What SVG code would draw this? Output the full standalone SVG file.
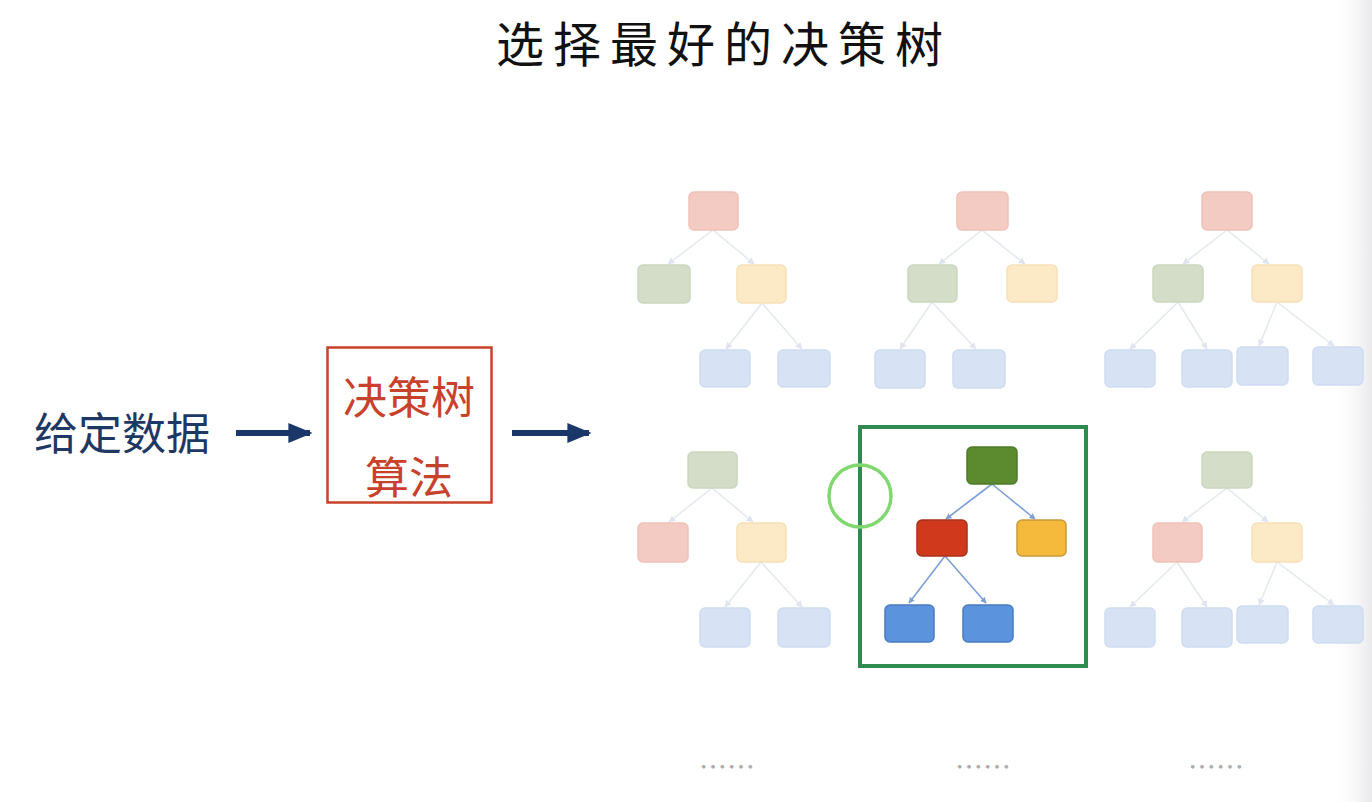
<svg xmlns="http://www.w3.org/2000/svg" width="1372" height="802" viewBox="0 0 1372 802">
<defs>
<linearGradient id="edge" x1="0" y1="0" x2="1" y2="0">
<stop offset="0" stop-color="#ffffff" stop-opacity="0"/>
<stop offset="1" stop-color="#e9e9ec"/>
</linearGradient>
<marker id="ah" viewBox="0 0 10 10" refX="9" refY="5" markerWidth="6" markerHeight="6" orient="auto" markerUnits="userSpaceOnUse">
<path d="M0,0 L10,5 L0,10 z" fill="#7b9fd6"/>
</marker>
<marker id="ahf" viewBox="0 0 10 10" refX="9" refY="5" markerWidth="7" markerHeight="7" orient="auto" markerUnits="userSpaceOnUse">
<path d="M0,0 L10,5 L0,10 z" fill="#dfe4ee"/>
</marker>
<marker id="big" viewBox="0 0 10 10" refX="9" refY="5" markerWidth="24" markerHeight="24" orient="auto" markerUnits="userSpaceOnUse">
<path d="M0,0.8 L10,5 L0,9.2 z" fill="#1b3769"/>
</marker>
</defs>
<style>
.t{font-family:"Noto Sans CJK SC","Noto Sans",sans-serif;}
.n{stroke-width:1.5;}
.fr{fill:#f4cbc2;stroke:#efc1b7;}
.fg{fill:#d3ddc8;stroke:#cbd6bf;}
.fy{fill:#fce9c5;stroke:#f6e0b8;}
.fb{fill:#d7e3f4;stroke:#cfdcf0;}
.fe{stroke:#e4e8ef;stroke-width:1.5;fill:none;marker-end:url(#ahf);}
.se{stroke:#7b9fd6;stroke-width:1.6;fill:none;marker-end:url(#ah);}
.dots{font-family:"Noto Sans CJK SC",sans-serif;font-size:28px;fill:#adadb0;text-anchor:middle;}
</style>
<rect width="1372" height="802" fill="#ffffff"/>
<rect x="1330" y="0" width="42" height="802" fill="url(#edge)"/>

<text class="t" x="724" y="62" font-size="48" letter-spacing="9" text-anchor="middle" fill="#111">选择最好的决策树</text>

<g id="connectors">
<line x1="236" y1="433" x2="310" y2="433" stroke="#1b3769" stroke-width="6" marker-end="url(#big)"/>
<line x1="512" y1="433" x2="589" y2="433" stroke="#1b3769" stroke-width="6" marker-end="url(#big)"/>
<!-- tree A -->
<path class="fe" d="M713,230 L668,264"/>
<path class="fe" d="M713,230 L754,264"/>
<path class="fe" d="M762,303 L726,349"/>
<path class="fe" d="M762,303 L802,349"/>
<!-- tree B -->
<path class="fe" d="M982,230 L939,264"/>
<path class="fe" d="M982,230 L1025,264"/>
<path class="fe" d="M932,302 L900,349"/>
<path class="fe" d="M932,302 L976,349"/>
<!-- tree C -->
<path class="fe" d="M1227,230 L1183,264"/>
<path class="fe" d="M1227,230 L1269,264"/>
<path class="fe" d="M1178,302 L1130,349"/>
<path class="fe" d="M1178,302 L1207,349"/>
<path class="fe" d="M1277,302 L1259,346"/>
<path class="fe" d="M1277,302 L1334,346"/>
<!-- tree D -->
<path class="fe" d="M712,488 L669,522"/>
<path class="fe" d="M712,488 L753,522"/>
<path class="fe" d="M761,562 L725,607"/>
<path class="fe" d="M761,562 L802,607"/>
<!-- tree E -->
<path class="fe" d="M1227,488 L1182,522"/>
<path class="fe" d="M1227,488 L1268,522"/>
<path class="fe" d="M1177,562 L1130,607"/>
<path class="fe" d="M1177,562 L1207,607"/>
<path class="fe" d="M1277,562 L1259,605"/>
<path class="fe" d="M1277,562 L1334,605"/>
<!-- selected tree -->
<path class="se" d="M992,484 L946,519"/>
<path class="se" d="M992,484 L1035,519"/>
<path class="se" d="M945,556 L909,603"/>
<path class="se" d="M945,556 L986,603"/>
</g>

<g id="input">
<text class="t" x="122" y="450" font-size="44" text-anchor="middle" fill="#1f3763">给定数据</text>
</g>

<g id="algorithm">
<rect x="327.5" y="347.5" width="164" height="155" fill="#fff" stroke="#c8412b" stroke-width="2.5"/>
<text class="t" x="409" y="414" font-size="44" text-anchor="middle" fill="#c8412b">决策树</text>
<text class="t" x="409" y="494" font-size="44" text-anchor="middle" fill="#c8412b">算法</text>
</g>

<g id="treeA">
<rect class="n fr" x="689" y="192" width="49" height="38" rx="5"/>
<rect class="n fg" x="638" y="265" width="52" height="38" rx="5"/>
<rect class="n fy" x="737" y="265" width="49" height="38" rx="5"/>
<rect class="n fb" x="700" y="350" width="50" height="37" rx="5"/>
<rect class="n fb" x="778" y="350" width="52" height="37" rx="5"/>
</g>

<g id="treeB">
<rect class="n fr" x="957" y="192" width="51" height="38" rx="5"/>
<rect class="n fg" x="908" y="265" width="49" height="37" rx="5"/>
<rect class="n fy" x="1007" y="265" width="50" height="37" rx="5"/>
<rect class="n fb" x="875" y="350" width="50" height="38" rx="5"/>
<rect class="n fb" x="953" y="350" width="52" height="38" rx="5"/>
</g>

<g id="treeC">
<rect class="n fr" x="1202" y="192" width="50" height="38" rx="5"/>
<rect class="n fg" x="1153" y="265" width="50" height="37" rx="5"/>
<rect class="n fy" x="1252" y="265" width="50" height="37" rx="5"/>
<rect class="n fb" x="1105" y="350" width="50" height="37" rx="5"/>
<rect class="n fb" x="1182" y="350" width="50" height="37" rx="5"/>
<rect class="n fb" x="1237" y="347" width="51" height="38" rx="5"/>
<rect class="n fb" x="1313" y="347" width="50" height="38" rx="5"/>
</g>

<g id="treeD">
<rect class="n fg" x="688" y="452" width="49" height="36" rx="5"/>
<rect class="n fr" x="638" y="523" width="50" height="39" rx="5"/>
<rect class="n fy" x="737" y="523" width="49" height="39" rx="5"/>
<rect class="n fb" x="700" y="608" width="50" height="39" rx="5"/>
<rect class="n fb" x="778" y="608" width="52" height="39" rx="5"/>
</g>

<g id="treeE">
<rect class="n fg" x="1202" y="452" width="50" height="36" rx="5"/>
<rect class="n fr" x="1153" y="523" width="49" height="39" rx="5"/>
<rect class="n fy" x="1252" y="523" width="50" height="39" rx="5"/>
<rect class="n fb" x="1105" y="608" width="50" height="39" rx="5"/>
<rect class="n fb" x="1182" y="608" width="50" height="39" rx="5"/>
<rect class="n fb" x="1237" y="606" width="51" height="37" rx="5"/>
<rect class="n fb" x="1313" y="606" width="50" height="37" rx="5"/>
</g>

<g id="bestTree">
<rect x="860" y="427" width="226" height="239" fill="none" stroke="#2e8a4e" stroke-width="4"/>
<rect x="967" y="447" width="50" height="37" rx="5" fill="#5b8a2f" stroke="#4f7a2a" stroke-width="1.5"/>
<rect x="917" y="520" width="50" height="36" rx="5" fill="#d0391c" stroke="#a8301a" stroke-width="1.5"/>
<rect x="1017" y="520" width="49" height="36" rx="5" fill="#f5b93b" stroke="#c9983a" stroke-width="1.5"/>
<rect x="885" y="605" width="49" height="37" rx="5" fill="#5b93dc" stroke="#4a7cc0" stroke-width="1.5"/>
<rect x="963" y="605" width="50" height="37" rx="5" fill="#5b93dc" stroke="#4a7cc0" stroke-width="1.5"/>
</g>

<g id="marker-circle">
<circle cx="860" cy="496" r="31" fill="none" stroke="#80d96e" stroke-width="3.5"/>
</g>

<g id="ellipses">
<text class="dots" x="727" y="778">……</text>
<text class="dots" x="983" y="778">……</text>
<text class="dots" x="1216" y="778">……</text>
</g>
</svg>
